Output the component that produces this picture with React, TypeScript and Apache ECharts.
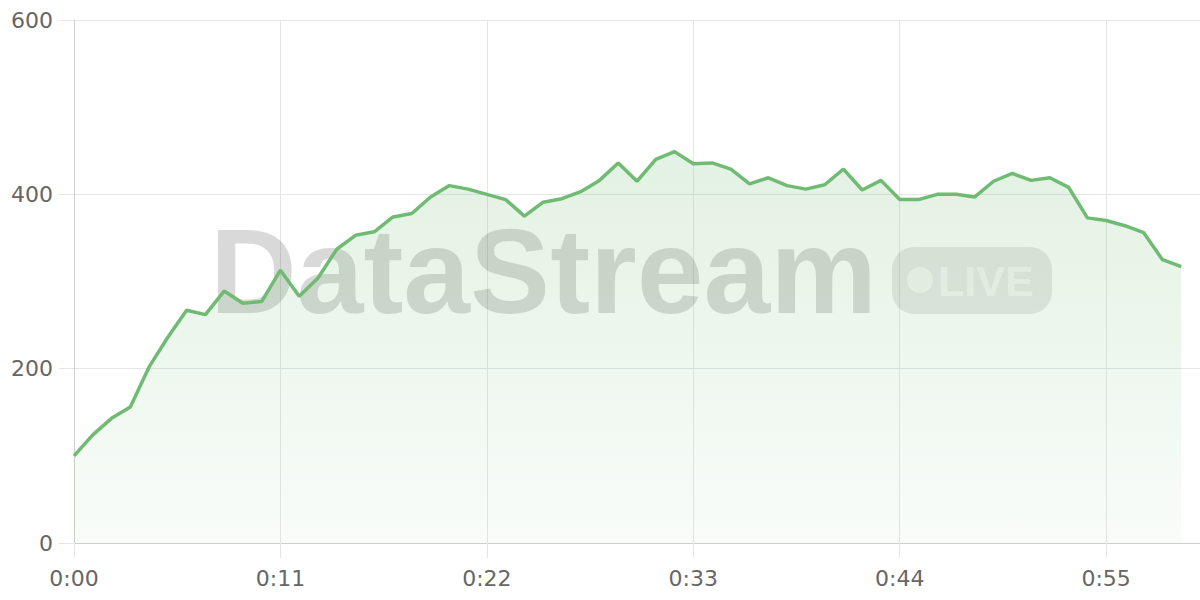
import React, { useEffect, useRef } from 'react';
import * as echarts from 'echarts';

// one point per minute, the axis runs one slot further (to 1:00)
const minutes = Array.from({ length: 61 }, (_, m) => `${Math.floor(m / 60)}:${String(m % 60).padStart(2, '0')}`);

const viewers = [
  100, 124, 143, 156, 202, 236, 267, 262, 289, 275,
  277, 313, 283, 304, 337, 353, 357, 374, 378, 397,
  410, 406, 400, 394, 375, 391, 395, 403, 416, 436,
  415, 440, 449, 435, 436, 429, 412, 419, 410, 406,
  411, 429, 405, 416, 394, 394, 400, 400, 397, 415,
  424, 416, 419, 408, 373, 370, 364, 356, 325, 317,
];

const yTicks = { min: 0, max: 600, step: 200 };

const GREEN = '#70bb73';
const GRID = '#e6e6e6';
const AXIS = '#cfcfcf';
const LABEL = '#666666';

const App = () => {
  const chartRef = useRef<HTMLDivElement>(null);

  useEffect(() => {
    if (!chartRef.current) return;
    const chart = echarts.init(chartRef.current, null, { renderer: 'svg' });

    chart.setOption({
      animation: false,
      grid: { left: 74, right: 0, top: 20, bottom: 57, containLabel: false },
      xAxis: {
        type: 'category',
        data: minutes,
        boundaryGap: false,
        axisLine: { lineStyle: { color: AXIS, width: 1 } },
        axisTick: { show: true, length: 15, interval: 10, lineStyle: { color: GRID } },
        axisLabel: {
          interval: 10,
          margin: 24,
          color: LABEL,
          fontSize: 22,
          fontFamily: 'DejaVu Sans',
        },
        splitLine: { show: true, interval: 10, lineStyle: { color: GRID } },
      },
      yAxis: {
        type: 'value',
        min: yTicks.min,
        max: yTicks.max,
        interval: yTicks.step,
        axisLine: { show: true, lineStyle: { color: AXIS } },
        axisTick: { show: true, length: 15, lineStyle: { color: GRID } },
        axisLabel: { margin: 21, color: LABEL, fontSize: 22, fontFamily: 'DejaVu Sans' },
        splitLine: { lineStyle: { color: GRID } },
      },
      // watermark
      graphic: [
        {
          type: 'text',
          z: 1,
          x: 210,
          y: 271,
          style: {
            text: 'DataStream',
            font: 'bold 120px "Liberation Sans"',
            fill: 'rgba(0,0,0,0.15)',
            align: 'left',
            verticalAlign: 'middle',
          },
        },
        {
          type: 'rect',
          z: 1,
          shape: { x: 892, y: 247, width: 160, height: 67, r: 22 },
          style: { fill: 'rgba(0,0,0,0.09)' },
        },
        {
          type: 'circle',
          z: 1,
          shape: { cx: 920, cy: 280, r: 13 },
          style: { fill: 'rgba(255,255,255,0.6)' },
        },
        {
          type: 'text',
          z: 1,
          x: 938,
          y: 281,
          style: {
            text: 'LIVE',
            font: 'bold 43px "Liberation Sans"',
            fill: 'rgba(255,255,255,0.6)',
            align: 'left',
            verticalAlign: 'middle',
          },
        },
      ],
      series: [
        {
          type: 'line',
          data: viewers,
          z: 3,
          symbol: 'none',
          lineStyle: { color: GREEN, width: 3.5 },
          areaStyle: {
            color: new echarts.graphic.LinearGradient(0, 0, 0, 1, [
              { offset: 0, color: 'rgba(109,186,112,0.28)' },
              { offset: 1, color: 'rgba(109,186,112,0.06)' },
            ]),
          },
        },
      ],
    });

    return () => {
      chart.dispose();
    };
  }, []);

  return (
    <div
      ref={chartRef}
      style={{ position: 'fixed', left: 0, top: 0, width: 1200, height: 600, background: '#fff' }}
    />
  );
};

export default App;
